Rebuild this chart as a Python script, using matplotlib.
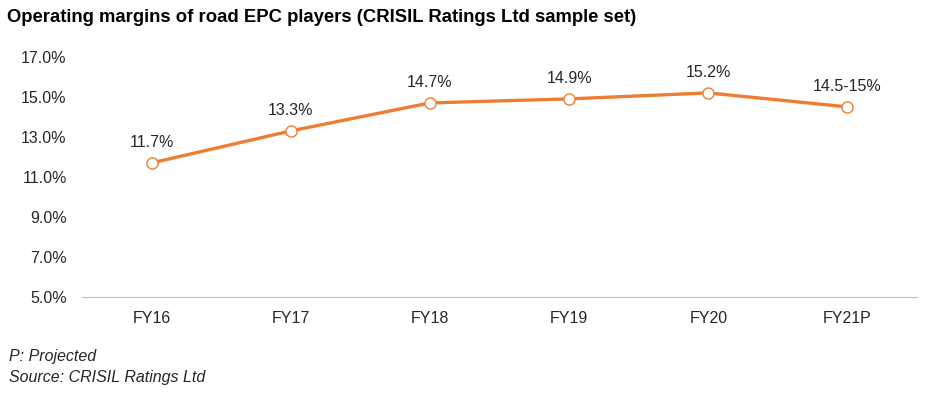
import matplotlib.pyplot as plt

plt.rcParams['font.family'] = ['Liberation Sans', 'DejaVu Sans']

# data
years = ["FY16", "FY17", "FY18", "FY19", "FY20", "FY21P"]
margins = [11.7, 13.3, 14.7, 14.9, 15.2, 14.5]
labels = ["11.7%", "13.3%", "14.7%", "14.9%", "15.2%", "14.5-15%"]
yticks = [5, 7, 9, 11, 13, 15, 17]

fig = plt.figure(figsize=(9.32, 3.95), dpi=100)
ax = fig.add_axes([0.088, 0.248, 0.896, 0.608])

x = range(len(years))
ax.plot(x, margins, color="#ED7D31", linewidth=2.4, marker="o",
        markersize=8, markerfacecolor="white", markeredgecolor="#ED7D31",
        markeredgewidth=1.0, zorder=3)
for i, (v, lab) in enumerate(zip(margins, labels)):
    ax.annotate(lab, (i, v), xytext=(0, 9), textcoords="offset points",
                ha="center", va="bottom", fontsize=11.5, color="#262626")

ax.set_xlim(-0.5, len(years) - 0.5)
ax.set_ylim(5, 17)
ax.set_xticks(list(x))
ax.set_xticklabels(years)
ax.set_yticks(yticks)
ax.set_yticklabels(["%.1f%%" % t for t in yticks])
ax.tick_params(length=0, labelsize=11.5, labelcolor="#262626")
ax.tick_params(axis="x", pad=10)
ax.tick_params(axis="y", pad=11)
for s in ["top", "right", "left"]:
    ax.spines[s].set_visible(False)
ax.spines["bottom"].set_color("#BFBFBF")

fig.text(0.007, 0.955, "Operating margins of road EPC players (CRISIL Ratings Ltd sample set)",
         fontsize=13.3, fontweight="bold", va="center", ha="left", color="black")
fig.text(0.010, 0.097, "P: Projected", fontsize=11.5, style="italic",
         va="center", color="#262626")
fig.text(0.010, 0.045, "Source: CRISIL Ratings Ltd", fontsize=11.5, style="italic",
         va="center", color="#262626")

fig.savefig("out.png", dpi=100)
